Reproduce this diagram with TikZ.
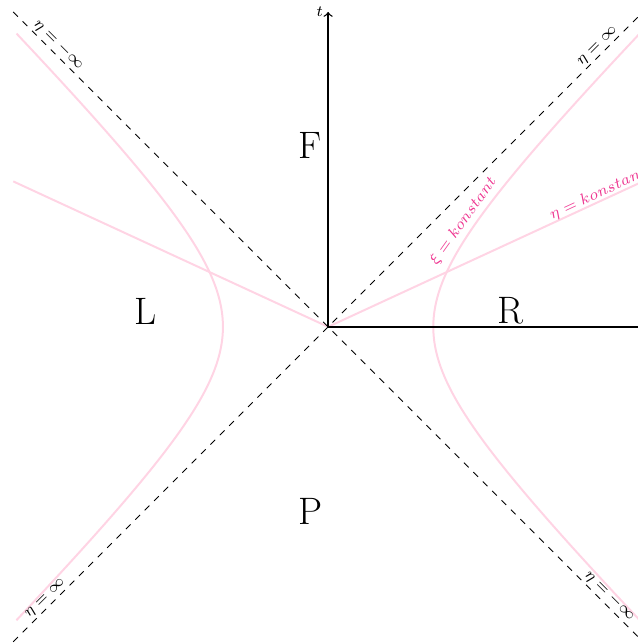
\documentclass[tikz,border=0pt]{standalone}
\definecolor{curvepink}{RGB}{255,212,228}
\definecolor{labelpink}{RGB}{238,55,145}
\tikzset{
  axisline/.style={semithick,->},
  nullline/.style={thin,dashed},
  pinkcurve/.style={curvepink,line width=0.9pt},
  pinklabel/.style={labelpink,font=\scriptsize,inner sep=1pt},
  edgelabel/.style={font=\scriptsize,inner sep=1pt,anchor=south},
  region/.style={font=\LARGE}
}
\begin{document}
\begin{tikzpicture}
\useasboundingbox (-5.21,-5.02) rectangle (4.92,5.19);
\clip (-5.21,-5.02) rectangle (4.92,5.19);
\coordinate (O) at (0,0);
\coordinate (ll) at (-5,-5);
\coordinate (ur) at (5,5);
\coordinate (ul) at (-5,5);
\coordinate (lr) at (5,-5);
\coordinate (el) at (-5,2.31);
\coordinate (er) at (5,2.31);
% hyperbolas
\draw[pinkcurve] plot[domain=-1.75:1.75,samples=80,smooth] ({1.67*cosh(\x)},{1.67*sinh(\x)});
\draw[pinkcurve] plot[domain=-1.75:1.75,samples=80,smooth] ({-1.67*cosh(\x)},{1.67*sinh(\x)});
% eta lines
\draw[pinkcurve] (O) -- (el);
\draw[pinkcurve] (O) -- (er);
% null lines
\draw[nullline] (ll) -- (ur);
\draw[nullline] (ul) -- (lr);
% axes
\draw[axisline] (O) -- (0,5) node[left,font=\scriptsize,inner sep=2pt] (tl) {$t$};
\draw[axisline] (O) -- (5,0) node[below,font=\scriptsize] (xl) {$x$};
% labels
\node[edgelabel,rotate=-45] (a1) at (-4.38,4.38) {$\eta=-\infty$};
\node[edgelabel,rotate=45] (a2) at (4.37,4.37) {$\eta=\infty$};
\node[edgelabel,rotate=45] (a3) at (-4.40,-4.40) {$\eta=\infty$};
\node[edgelabel,rotate=-45] (a4) at (4.37,-4.37) {$\eta=-\infty$};
\node[pinklabel,rotate=54.5] (xi) at (2.15,1.68) {$\xi=konstant$};
\node[pinklabel,rotate=24.8] (et) at (4.29,2.11) {$\eta=konstant$};
\node[region] (F) at (-0.28,2.88) {F};
\node[region] (P) at (-0.28,-2.93) {P};
\node[region] (L) at (-2.9,0.25) {L};
\node[region] (R) at (2.9,0.25) {R};
\end{tikzpicture}
\end{document}
